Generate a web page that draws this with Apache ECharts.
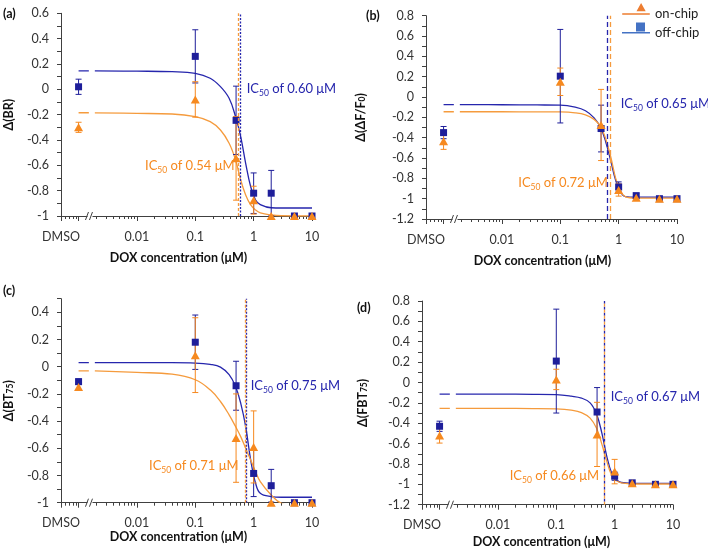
<!DOCTYPE html>
<html>
<head>
<meta charset="utf-8">
<script src="https://cdn.jsdelivr.net/npm/echarts@6/dist/echarts.min.js"></script>
<style>
html, body { margin: 0; padding: 0; background: #fff; }
#chart { width: 708px; height: 553px; }
</style>
</head>
<body>
<div id="chart"></div>
<script>
// doses (uM); DMSO control is plotted at 0.001
var doses = [0.001, 0.1, 0.5, 1, 2, 5, 10];
var dmsoLabel = 'DMSO';
var seriesNames = ['on-chip', 'off-chip'];

// (a) delta BR
var onA = [-0.30, -0.08, -0.545, -0.875, -1.0, -1.0, -1.0];
var onAErr = [0.04, 0.14, 0.33, 0.11, 0, 0, 0];
var offA = [0.02, 0.26, -0.245, -0.82, -0.82, -1.0, -1.0];
var offAErr = [0.06, 0.21, 0.27, 0.16, 0.18, 0, 0];
// (b) delta dF/F0
var onB = [-0.435, 0.15, -0.275, -0.915, -0.99, -1.0, -1.0];
var onBErr = [0.08, 0.135, 0.35, 0.06, 0.02, 0.01, 0.01];
var offB = [-0.35, 0.205, -0.31, -0.885, -0.97, -1.0, -1.0];
var offBErr = [0.06, 0.46, 0.23, 0.05, 0.02, 0, 0];
// (c) delta BT75
var onC = [-0.15, 0.085, -0.525, -0.59, -1.0, -1.0, -1.0];
var onCErr = [0.02, 0.275, 0.325, 0.265, 0, 0, 0];
var offC = [-0.11, 0.18, -0.14, -0.785, -0.875, -1.0, -1.0];
var offCErr = [0.02, 0.2, 0.18, 0.17, 0.12, 0, 0];
// (d) delta FBT75
var onD = [-0.52, 0.03, -0.51, -0.875, -0.99, -1.0, -1.0];
var onDErr = [0.075, 0.1, 0.315, 0.12, 0.01, 0, 0];
var offD = [-0.43, 0.21, -0.29, -0.92, -0.985, -1.0, -1.0];
var offDErr = [0.05, 0.51, 0.24, 0.04, 0.01, 0.01, 0.01];

// fitted curves, '-' is the gap at the axis break
var fitX = [0.001, 0.0015, 0.0017, 0.0019, 0.01, 0.04, 0.1, 0.18, 0.27, 0.38, 0.49, 0.6, 0.73, 0.89, 1.08, 1.3, 2, 3, 10];
var fitOnA = [-0.185, -0.185, '-', -0.186, -0.19, -0.195, -0.216, -0.255, -0.321, -0.426, -0.558, -0.716, -0.834, -0.913, -0.953, -0.975, -0.992, -0.998, -1.0];
var fitOffA = [0.145, 0.145, '-', 0.145, 0.143, 0.139, 0.126, 0.087, 0.021, -0.071, -0.216, -0.374, -0.584, -0.769, -0.874, -0.91, -0.935, -0.937, -0.937];
var fitOnB = [-0.145, -0.145, '-', -0.145, -0.145, -0.146, -0.147, -0.155, -0.175, -0.22, -0.29, -0.41, -0.585, -0.8, -0.93, -0.98, -0.995, -0.995, -0.995];
var fitOffB = [-0.075, -0.075, '-', -0.075, -0.076, -0.078, -0.08, -0.1, -0.135, -0.205, -0.3, -0.44, -0.625, -0.82, -0.935, -0.98, -0.985, -0.985, -0.985];
var fitOnC = [-0.03, -0.03, '-', -0.03, -0.042, -0.055, -0.096, -0.17, -0.256, -0.354, -0.44, -0.514, -0.6, -0.686, -0.772, -0.845, -0.943, -1.005, -1.07];
var fitOffC = [0.03, 0.03, '-', 0.03, 0.03, 0.03, 0.027, 0.017, -0.003, -0.059, -0.145, -0.268, -0.44, -0.686, -0.857, -0.931, -0.955, -0.96, -0.96];
var fitOnD = [-0.255, -0.255, '-', -0.255, -0.255, -0.256, -0.26, -0.272, -0.295, -0.35, -0.45, -0.6, -0.77, -0.91, -0.965, -0.985, -0.995, -0.997, -0.997];
var fitOffD = [-0.115, -0.115, '-', -0.115, -0.115, -0.116, -0.12, -0.135, -0.153, -0.2, -0.31, -0.49, -0.72, -0.89, -0.955, -0.982, -0.99, -0.99, -0.99];

// IC50 (uM): [on-chip, off-chip]
var icA = [0.54, 0.60];
var icB = [0.72, 0.65];
var icC = [0.71, 0.75];
var icD = [0.66, 0.67];

var BLUE = '#1e1e9a';
var BLUE_LINE = '#2626ad';
var ORANGE = '#f6891f';
var ORANGE_LINE = '#f59b3d';
var AXIS = '#404040';
var FONT = 'Lato, "Open Sans", sans-serif';
var breakX = 0.0016;

var panels = [
  { tag: '(a)', grid: { left: 61, top: 13.3, width: 251, height: 202.7 }, yMin: -1, yMax: 0.6,
    yName: '{b|Δ(BR)}', yGap: 46, xGap: 35, xShift: 16,
    on: onA, onErr: onAErr, off: offA, offErr: offAErr, fitOn: fitOnA, fitOff: fitOffA, ic: icA,
    dashOn: [3, 2], dashOff: [2, 1.5], offOffset: 0 },
  { tag: '(b)', grid: { left: 426, top: 15.7, width: 251, height: 203.3 }, yMin: -1.2, yMax: 0.8,
    yName: '{b|Δ(ΔF/F}{s|0}{b|)}', yGap: 59, xGap: 35, xShift: 18,
    on: onB, onErr: onBErr, off: offB, offErr: offBErr, fitOn: fitOnB, fitOff: fitOffB, ic: icB,
    dashOn: [5, 3], dashOff: [5, 3], offOffset: 0 },
  { tag: '(c)', grid: { left: 61, top: 298.7, width: 251, height: 204 }, yMin: -1, yMax: 0.5,
    yName: '{b|Δ(BT}{s|75}{b|)}', yGap: 46, xGap: 26.5, xShift: 16,
    on: onC, onErr: onCErr, off: offC, offErr: offCErr, fitOn: fitOnC, fitOff: fitOffC, ic: icC,
    dashOn: [3, 2], dashOff: [2, 1.5], offOffset: 0 },
  { tag: '(d)', grid: { left: 422, top: 301, width: 251, height: 203.7 }, yMin: -1.2, yMax: 0.8,
    yName: '{b|Δ(FBT}{s|75}{b|)}', yGap: 53, xGap: 31, xShift: 12,
    on: onD, onErr: onDErr, off: offD, offErr: offDErr, fitOn: fitOnD, fitOff: fitOffD, ic: icD,
    dashOn: [3, 3], dashOff: [3, 3], offOffset: 3 }
];

// IC50 text labels
var icLabels = [
  { x: 246.7, y: 89, v: '0.60', c: BLUE_LINE }, { x: 145, y: 166, v: '0.54', c: ORANGE },
  { x: 620.7, y: 104, v: '0.65', c: BLUE_LINE }, { x: 518.3, y: 183, v: '0.72', c: ORANGE },
  { x: 250.7, y: 386, v: '0.75', c: BLUE_LINE }, { x: 149, y: 466, v: '0.71', c: ORANGE },
  { x: 610.7, y: 396.7, v: '0.67', c: BLUE_LINE }, { x: 509.7, y: 476, v: '0.66', c: ORANGE }
];
var tagPos = [[3, 14], [366, 16], [3, 291], [357, 308]];

function xLabel(v) {
  var l = Math.log10(v);
  if (l < -3.1) return dmsoLabel;
  if (Math.abs(l + 3) < 0.05) return '';
  return String(+v.toPrecision(3));
}

function pairs(xs, ys) {
  return xs.map(function (x, k) { return [x, ys[k]]; });
}

function fitSeries(i, ys, color, ic, dash, offset) {
  return {
    type: 'line', xAxisIndex: i, yAxisIndex: i, data: pairs(fitX, ys),
    smooth: 0.4, symbol: 'none', connectNulls: false, clip: true,
    silent: true, z: 2, lineStyle: { color: color, width: 1.3 },
    markLine: {
      silent: true, symbol: 'none', label: { show: false }, animation: false,
      lineStyle: { color: color, width: 1.3, type: dash, dashOffset: offset },
      data: [{ xAxis: ic }]
    }
  };
}

function errSeries(i, ys, es, color) {
  var d = [];
  doses.forEach(function (x, k) {
    if (es[k] > 0) d.push([x, ys[k] - es[k], ys[k] + es[k]]);
  });
  return {
    type: 'custom', xAxisIndex: i, yAxisIndex: i, data: d, silent: true, z: 3,
    renderItem: function (params, api) {
      var lo = api.coord([api.value(0), api.value(1)]);
      var hi = api.coord([api.value(0), api.value(2)]);
      var st = { stroke: color, lineWidth: 1 };
      return {
        type: 'group', children: [
          { type: 'line', shape: { x1: lo[0], y1: lo[1], x2: hi[0], y2: hi[1] }, style: st },
          { type: 'line', shape: { x1: lo[0] - 3, y1: lo[1], x2: lo[0] + 3, y2: lo[1] }, style: st },
          { type: 'line', shape: { x1: hi[0] - 3, y1: hi[1], x2: hi[0] + 3, y2: hi[1] }, style: st }
        ]
      };
    }
  };
}

function breakSeries(i, yMin) {
  return {
    type: 'custom', xAxisIndex: i, yAxisIndex: i, data: [[breakX, yMin]], silent: true, z: 10,
    renderItem: function (params, api) {
      var c = api.coord([api.value(0), api.value(1)]);
      var st = { stroke: AXIS, lineWidth: 1 };
      return {
        type: 'group', children: [
          { type: 'rect', shape: { x: c[0] - 3, y: c[1] - 1.5, width: 5, height: 3 }, style: { fill: '#fff' } },
          { type: 'line', shape: { x1: c[0] - 5, y1: c[1] + 4, x2: c[0] - 2, y2: c[1] - 4 }, style: st },
          { type: 'line', shape: { x1: c[0] - 1, y1: c[1] + 4, x2: c[0] + 2, y2: c[1] - 4 }, style: st }
        ]
      };
    }
  };
}

var grids = [], xAxes = [], yAxes = [], series = [];
panels.forEach(function (p, i) {
  grids.push(p.grid);
  xAxes.push({
    type: 'log', gridIndex: i, min: 0.0005, max: 10, logBase: 10,
    name: 'DOX concentration (μM)', nameLocation: 'middle', nameGap: p.xGap,
    nameTextStyle: { fontFamily: FONT, fontWeight: 'bold', fontSize: 12.5, color: '#111', padding: [0, p.xShift, 0, 0] },
    axisLine: { show: true, onZero: false, lineStyle: { color: AXIS, width: 1 } },
    axisTick: { show: true, length: 5, lineStyle: { color: AXIS } },
    minorTick: { show: true, splitNumber: 9, length: 3, lineStyle: { color: AXIS } },
    splitLine: { show: false },
    axisLabel: { formatter: xLabel, showMinLabel: true, margin: 14, fontFamily: FONT, fontSize: 12.5, color: '#333' }
  });
  yAxes.push({
    type: 'value', gridIndex: i, min: p.yMin, max: p.yMax, interval: 0.2,
    name: p.yName, nameLocation: 'middle', nameRotate: 90, nameGap: p.yGap,
    nameTextStyle: { rich: {
      b: { fontFamily: FONT, fontWeight: 'bold', fontSize: 12.5, color: '#111' },
      s: { fontFamily: FONT, fontWeight: 'bold', fontSize: 8.5, color: '#111', verticalAlign: 'bottom', padding: [4, 0, 0, 0] }
    } },
    axisLine: { show: true, lineStyle: { color: AXIS, width: 1 } },
    axisTick: { show: true, length: 4, lineStyle: { color: AXIS } },
    minorTick: { show: true, splitNumber: 2, length: 4, lineStyle: { color: AXIS } },
    splitLine: { show: false },
    axisLabel: { showMaxLabel: p.yMax !== 0.5, margin: 12, fontFamily: FONT, fontSize: 12.5, color: '#333' }
  });
  series.push(fitSeries(i, p.fitOff, BLUE_LINE, p.ic[1], p.dashOff, p.offOffset));
  series.push(fitSeries(i, p.fitOn, ORANGE_LINE, p.ic[0], p.dashOn, 0));
  series.push(errSeries(i, p.off, p.offErr, BLUE));
  series.push(errSeries(i, p.on, p.onErr, ORANGE));
  series.push({
    type: 'scatter', name: seriesNames[1], xAxisIndex: i, yAxisIndex: i, data: pairs(doses, p.off),
    symbol: 'rect', symbolSize: 7, itemStyle: { color: BLUE, opacity: 1 }, z: 4, silent: true
  });
  series.push({
    type: 'scatter', name: seriesNames[0], xAxisIndex: i, yAxisIndex: i, data: pairs(doses, p.on),
    symbol: 'triangle', symbolSize: [9, 8], itemStyle: { color: ORANGE, opacity: 1 }, z: 5, silent: true
  });
  series.push(breakSeries(i, p.yMin));
});

var graphics = [];
panels.forEach(function (p, i) {
  graphics.push({
    type: 'text', x: tagPos[i][0], y: tagPos[i][1],
    style: { text: p.tag, font: 'bold 12.5px ' + FONT, fill: '#111', verticalAlign: 'middle' }
  });
});
icLabels.forEach(function (l) {
  graphics.push({
    type: 'text', x: l.x, y: l.y,
    style: {
      text: '{t|IC}{s|50}{t| of ' + l.v + ' μM}', verticalAlign: 'middle',
      rich: {
        t: { fontFamily: FONT, fontSize: 13, fill: l.c, lineHeight: 18 },
        s: { fontFamily: FONT, fontSize: 8.5, fill: l.c, lineHeight: 18, verticalAlign: 'bottom' }
      }
    }
  });
});

var chart = echarts.init(document.getElementById('chart'));
chart.setOption({
  animation: false,
  backgroundColor: '#fff',
  grid: grids,
  xAxis: xAxes,
  yAxis: yAxes,
  legend: {
    orient: 'vertical', left: 622, top: 2, padding: 0, itemGap: -4.5,
    itemWidth: 28, itemHeight: 24, selectedMode: false,
    textStyle: { fontFamily: FONT, fontSize: 13, color: '#222' },
    data: [
      { name: seriesNames[0], icon: 'path://M0,0M18.5,1L23,9L14,9Z M0,11H27V12.5H0Z M0,23.5', itemStyle: { color: '#ed7d31' } },
      { name: seriesNames[1], icon: 'path://M0,0M14,1H23V10H14Z M0,10.5H28V12H0Z M0,22.5', itemStyle: { color: '#4472c4' } }
    ]
  },
  graphic: graphics,
  series: series
});
</script>
</body>
</html>
